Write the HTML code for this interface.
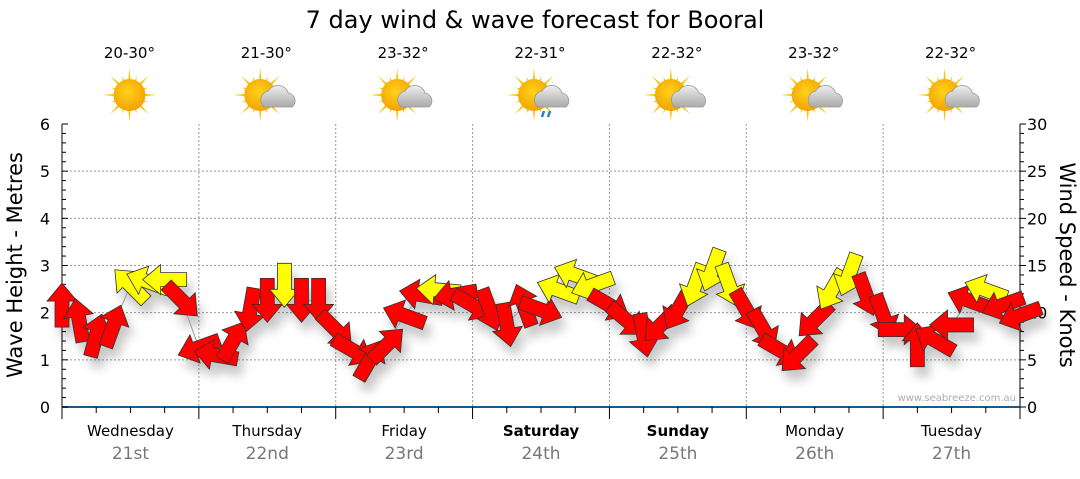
<!DOCTYPE html>
<html><head><meta charset="utf-8">
<style>
body{margin:0;background:#fff;width:1080px;height:475px;overflow:hidden;font-family:"DejaVu Sans","Liberation Sans",sans-serif;}
svg text{font-family:"DejaVu Sans","Liberation Sans",sans-serif;}
</style></head>
<body>
<svg id="chart" width="1080" height="475" viewBox="0 0 1080 475" xmlns="http://www.w3.org/2000/svg">
<defs>
<filter id="sh" x="-50%" y="-50%" width="200%" height="200%"><feGaussianBlur in="SourceAlpha" stdDeviation="5"/><feOffset dx="5" dy="10"/><feComponentTransfer><feFuncA type="linear" slope="0.22"/></feComponentTransfer><feMerge><feMergeNode/><feMergeNode in="SourceGraphic"/></feMerge></filter>
<radialGradient id="sun" cx="45%" cy="40%" r="60%"><stop offset="0" stop-color="#ffd21a"/><stop offset="1" stop-color="#f2a200"/></radialGradient>
<linearGradient id="cl" x1="0" y1="0" x2="0" y2="1"><stop offset="0" stop-color="#eee"/><stop offset="1" stop-color="#aaa"/></linearGradient>
</defs>
<text x="535" y="28" font-size="24" text-anchor="middle" fill="#000">7 day wind &amp; wave forecast for Booral</text>
<g id="grid"></g>
<g id="axes"></g>
<g id="icons"></g>
<g id="arrows" filter="url(#sh)"></g>
<text x="1016" y="401" font-size="10" text-anchor="end" fill="#aab">www.seabreeze.com.au</text>
<text transform="translate(22,265) rotate(-90)" font-size="21" text-anchor="middle">Wave Height - Metres</text>
<text transform="translate(1060,265) rotate(90)" font-size="21" text-anchor="middle">Wind Speed - Knots</text>
</svg>
<script>
const days=["Wednesday","Thursday","Friday","Saturday","Sunday","Monday","Tuesday"];
const dates=["21st","22nd","23rd","24th","25th","26th","27th"];
const temps=["20-30°","21-30°","23-32°","22-31°","22-32°","23-32°","22-32°"];
const icons=["sun","partly","partly","showers","partly","partly","partly"];
const boldDays=[false,false,false,true,true,false,false];
const leftTicks=[0,1,2,3,4,5,6];
const rightTicks=[0,5,10,15,20,25,30];
// wind speed (knots) every 3 hours starting Wed 00:00
const windSpeed=[10.8,9.2,7.6,8.6,12.9,13.3,13.5,11.3,
 6.3,5.5,7.0,10.3,11.3,12.9,11.3,11.3,
 8.2,6.0,5.0,6.6,9.7,11.9,12.4,11.9,
 10.8,10.3,8.7,10.8,10.3,12.4,14.0,12.9,
 10.8,9.2,7.6,8.7,10.3,12.9,14.5,12.9,
 10.3,8.2,6.0,5.5,9.2,12.4,14.0,11.9,
 9.7,8.2,6.6,7.1,8.7,11.3,12.4,10.8,9.7];
// arrow pointing direction (degrees clockwise from up)
const windDir=[0,-10,15,20,-45,-70,-90,135,
 -110,-80,30,190,180,180,180,180,
 135,120,30,45,-70,-80,-85,-100,
 120,160,170,-20,110,-70,-70,-110,
 120,130,170,225,210,200,200,160,
 150,150,120,225,225,210,200,160,
 160,90,0,-60,-90,-70,-70,-110,-110];

const X0=62,X1=1020,Y0=407,Y1=124;
const dayW=(X1-X0)/7;
const xT=i=>X0+i*dayW/8;
const yM=m=>Y0-(m/6)*(Y0-Y1);
const yK=k=>Y0-(k/30)*(Y0-Y1);
const NS="http://www.w3.org/2000/svg";
function mk(tag,attrs,parent){const e=document.createElementNS(NS,tag);for(const k in attrs)e.setAttribute(k,attrs[k]);parent.appendChild(e);return e;}
const grid=document.getElementById('grid'),axes=document.getElementById('axes'),icn=document.getElementById('icons'),arr=document.getElementById('arrows');
for(let m=1;m<=5;m++){const l=mk('line',{x1:X0,x2:X1,y1:yM(m),y2:yM(m),stroke:'#999','stroke-dasharray':'2,2'},grid);

}
for(let d=1;d<7;d++){const x=X0+d*dayW;const l=mk('line',{x1:x,x2:x,y1:Y1,y2:Y0,stroke:'#999','stroke-dasharray':'2,2'},grid);

}
mk('line',{x1:X0,x2:X0,y1:Y1,y2:Y0,stroke:'#000'},axes);
mk('line',{x1:X1,x2:X1,y1:Y1,y2:Y0,stroke:'#000'},axes);
mk('line',{x1:X0,x2:X1,y1:Y0,y2:Y0,stroke:'#1a5a8a','stroke-width':2},axes);
for(let i=0;i<=30;i++){const y=yM(i/5);const w=i%5==0?6:4;
 mk('line',{x1:X0,x2:X0+w,y1:y,y2:y,stroke:'#000'},axes);
 mk('line',{x1:X1,x2:X1+w,y1:y,y2:y,stroke:'#000'},axes);}
leftTicks.forEach(v=>{const t=mk('text',{x:50,y:yM(v)+6,'font-size':16,'text-anchor':'end'},axes);t.textContent=v;

});
rightTicks.forEach(v=>{const t=mk('text',{x:1027,y:yK(v)+6,'font-size':16},axes);t.textContent=v;

});
for(let i=0;i<=28;i++){const x=X0+i*dayW/4;mk('line',{x1:x,x2:x,y1:Y0,y2:Y0+(i%4==0?12:6),stroke:'#000'},axes);}
days.forEach((d,i)=>{const cx=X0+(i+0.5)*dayW;
 const t=mk('text',{x:cx,y:436,'font-size':15,'text-anchor':'middle','font-weight':boldDays[i]?'bold':'normal'},axes);t.textContent=d;
 
 
 const t2=mk('text',{x:cx,y:459,'font-size':17,'text-anchor':'middle',fill:'#777'},axes);t2.textContent=dates[i];
 
 
 const t3=mk('text',{x:cx-1,y:58,'font-size':15,'text-anchor':'middle'},icn);t3.textContent=temps[i];
 
 
 const g=mk('g',{transform:`translate(${cx-1},95)`},icn);
 
 
 const sx=icons[i]=='sun'?0:-6;
 for(let r=0;r<16;r++){const a=r*Math.PI/8;const L=r%2?20:27;
  mk('polygon',{points:`${sx+Math.cos(a-0.12)*12},${Math.sin(a-0.12)*12} ${sx+Math.cos(a)*L},${Math.sin(a)*L} ${sx+Math.cos(a+0.12)*12},${Math.sin(a+0.12)*12}`,fill:'#f5c400'},g);}
 mk('circle',{cx:sx,cy:0,r:16,fill:'url(#sun)'},g);
 if(icons[i]!='sun'){mk('path',{d:'M-2,12 a9,9 0 0 1 4,-16 a11,11 0 0 1 20,2 a8,8 0 0 1 4,14 z',fill:'url(#cl)',stroke:'#999','stroke-width':0.8},g);}
 if(icons[i]=='showers'){mk('path',{d:'M4,16 l-2,6 M10,16 l-2,6',stroke:'#2a7fd0','stroke-width':2.5},g);}
});
// wave line
let d='';windSpeed.forEach((k,i)=>{d+=(i?'L':'M')+xT(i)+','+yK(k);});
const wl=mk('path',{d:d,fill:'none',stroke:'#999','stroke-width':1},arr);


windSpeed.forEach((k,i)=>{
 const col=k>=12?'#ffff00':'#ff0000';
 const p=mk('polygon',{points:'0,-22 15,-4 7,-4 7,22 -7,22 -7,-4 -15,-4',fill:col,stroke:'#333','stroke-width':0.8,transform:`translate(${xT(i)},${yK(k)}) rotate(${windDir[i]})`},arr);
 
 
});
</script>
</body></html>
